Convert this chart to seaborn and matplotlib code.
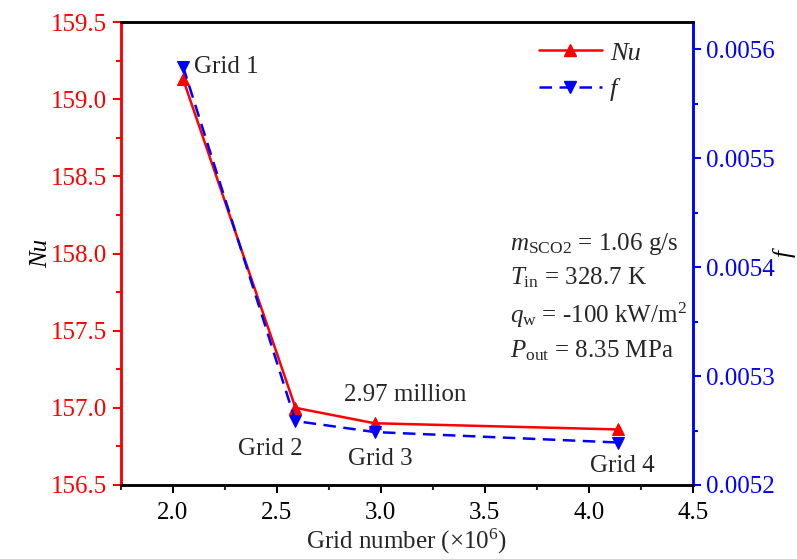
import matplotlib
matplotlib.use("Agg")
import matplotlib.pyplot as plt
import seaborn as sns
import pandas as pd
from matplotlib.ticker import MultipleLocator, FormatStrFormatter
from matplotlib.lines import Line2D

# Data
grid_number = [2.05, 2.59, 2.97, 4.14]
nu_values = [159.13, 157.00, 156.90, 156.86]
f_values = [0.005584, 0.0052587, 0.0052486, 0.005239]
grid_labels = ["Grid 1", "Grid 2", "Grid 3", "Grid 4"]

sns.set_style("ticks")
plt.rcParams['font.family'] = ['Liberation Serif', 'DejaVu Serif']
plt.rcParams['mathtext.fontset'] = 'custom'
plt.rcParams['mathtext.rm'] = 'Liberation Serif'
plt.rcParams['mathtext.it'] = 'Liberation Serif:italic'
plt.rcParams['mathtext.bf'] = 'Liberation Serif:bold'

FS = 18
df = pd.DataFrame({"x": grid_number, "Nu": nu_values, "f": f_values})

fig = plt.figure(figsize=(7.97, 5.59), dpi=100)
ax = fig.add_axes([0.1514, 0.1324, 0.8695 - 0.1514, 0.9606 - 0.1324])
ax2 = ax.twinx()

sns.lineplot(data=df, x="x", y="Nu", ax=ax, color="red", marker="^", markersize=9,
             markeredgecolor="red", linewidth=1.8, legend=False)
sns.lineplot(data=df, x="x", y="f", ax=ax2, color="blue", marker="v", markersize=9,
             markeredgecolor="blue", linewidth=1.8, legend=False, dashes=False)
ax2.lines[0].set_linestyle((0, (5, 3)))

ax.set_xlim(1.75, 4.5)
ax.set_ylim(156.5, 159.5)
ax2.set_ylim(0.0052, 0.005625)

ax.xaxis.set_major_locator(MultipleLocator(0.5))
ax.xaxis.set_minor_locator(MultipleLocator(0.25))
ax.yaxis.set_major_locator(MultipleLocator(0.5))
ax.yaxis.set_minor_locator(MultipleLocator(0.25))
ax2.yaxis.set_major_locator(MultipleLocator(0.0001))
ax2.yaxis.set_minor_locator(MultipleLocator(0.00005))
ax.xaxis.set_major_formatter(FormatStrFormatter('%.1f'))
ax.yaxis.set_major_formatter(FormatStrFormatter('%.1f'))
ax2.yaxis.set_major_formatter(FormatStrFormatter('%.4f'))

for a in (ax, ax2):
    for s in a.spines.values():
        s.set_linewidth(1.8)
        s.set_visible(True)
for a in (ax, ax2):
    a.spines['left'].set_color('red')
    a.spines['right'].set_color('blue')
    a.spines['top'].set_color('black')
    a.spines['bottom'].set_color('black')

ax.tick_params(axis='x', which='major', direction='out', length=6, width=1.5, labelsize=FS, colors='black', pad=6)
ax.tick_params(axis='x', which='minor', direction='out', length=3.5, width=1.5)
ax.tick_params(axis='y', which='major', direction='out', length=6, width=1.5, labelsize=FS, colors='red', labelcolor='red')
ax.tick_params(axis='y', which='minor', direction='out', length=3.5, width=1.5, colors='red')
ax2.tick_params(axis='y', which='major', direction='out', length=6, width=1.5, labelsize=FS, colors='blue', labelcolor='blue')
ax2.tick_params(axis='y', which='minor', direction='out', length=3.5, width=1.5, colors='blue')

ax.set_xlabel("Grid number (×10$^{6}$)", fontsize=FS, labelpad=2)
ax.set_ylabel("Nu", fontsize=FS, fontstyle='italic', color='black')
ax2.set_ylabel("f", fontsize=FS, fontstyle='italic', color='black')
ax.yaxis.set_label_coords(-0.12, 0.5)
ax2.yaxis.set_label_coords(1.14, 0.5)

# Annotations
ax.text(2.10, 159.21, grid_labels[0], fontsize=FS, ha='left', va='center')
ax.text(2.467, 156.73, grid_labels[1], fontsize=FS, ha='center', va='center')
ax.text(2.997, 156.67, grid_labels[2], fontsize=FS, ha='center', va='center')
ax.text(4.16, 156.62, grid_labels[3], fontsize=FS, ha='center', va='center')
ax.text(3.117, 157.08, "2.97 million", fontsize=FS, ha='center', va='center')

params = ["$m_{\\mathrm{SCO2}}$ = 1.06 g/s",
          "$T_{\\mathrm{in}}$ = 328.7 K",
          "$q_{\\mathrm{w}}$ = -100 kW/m$^{2}$",
          "$P_{\\mathrm{out}}$ = 8.35 MPa"]
ys = [158.06, 157.84, 157.60, 157.37]
for t, y in zip(params, ys):
    ax.text(3.62, y, t, fontsize=FS, ha='left', va='center')

handles = [Line2D([], [], color='red', marker='^', markersize=9, linewidth=1.8),
           Line2D([], [], color='blue', marker='v', markersize=9, linewidth=1.8, linestyle=(0, (5, 3)))]
leg = ax2.legend(handles, ["Nu", "f"], loc='upper left', frameon=False,
                 prop={'family': 'Liberation Serif', 'style': 'italic', 'size': 19},
                 handlelength=2.4, bbox_to_anchor=(0.689, 1.01), labelspacing=0.5,
                 handletextpad=0.3)

fig.savefig("out.png", dpi=100)
